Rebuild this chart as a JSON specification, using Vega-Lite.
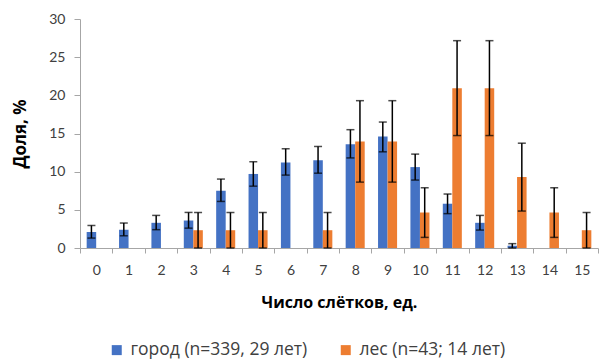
{
  "$schema": "https://vega.github.io/schema/vega-lite/v6.json",
  "width": 518,
  "height": 229,
  "autosize": "none",
  "padding": {"left": 80, "top": 19, "right": 1, "bottom": 111},
  "background": "white",
  "config": {
    "font": "Lato",
    "view": {"stroke": null},
    "axis": {"labelFont": "Lato", "titleFont": "Open Sans", "labelColor": "#404040", "titleColor": "#000000", "domainColor": "#A6A6A6", "tickColor": "#A6A6A6", "grid": false, "labelOverlap": false},
    "axisY": {"labelFontSize": 14, "labelPadding": 9, "tickSize": 6, "titleFontSize": 17, "titleFontWeight": "bold", "titlePadding": 19, "labelOverlap": false},
    "legend": {"padding": 0}
  },
  "data": {
    "values": [
      {"n": "0", "g": "город (n=339, 29 лет)", "v": 2.1, "lo": 1.3, "hi": 2.95},
      {"n": "1", "g": "город (n=339, 29 лет)", "v": 2.4, "lo": 1.6, "hi": 3.27},
      {"n": "2", "g": "город (n=339, 29 лет)", "v": 3.3, "lo": 2.4, "hi": 4.27},
      {"n": "3", "g": "город (n=339, 29 лет)", "v": 3.6, "lo": 2.6, "hi": 4.66},
      {"n": "4", "g": "город (n=339, 29 лет)", "v": 7.5, "lo": 6.1, "hi": 9.03},
      {"n": "5", "g": "город (n=339, 29 лет)", "v": 9.7, "lo": 8.1, "hi": 11.3},
      {"n": "6", "g": "город (n=339, 29 лет)", "v": 11.2, "lo": 9.55, "hi": 13.0},
      {"n": "7", "g": "город (n=339, 29 лет)", "v": 11.5, "lo": 9.8, "hi": 13.3},
      {"n": "8", "g": "город (n=339, 29 лет)", "v": 13.6, "lo": 11.8, "hi": 15.5},
      {"n": "9", "g": "город (n=339, 29 лет)", "v": 14.6, "lo": 12.6, "hi": 16.5},
      {"n": "10", "g": "город (n=339, 29 лет)", "v": 10.6, "lo": 8.9, "hi": 12.3},
      {"n": "11", "g": "город (n=339, 29 лет)", "v": 5.8, "lo": 4.5, "hi": 7.07},
      {"n": "12", "g": "город (n=339, 29 лет)", "v": 3.3, "lo": 2.35, "hi": 4.27},
      {"n": "13", "g": "город (n=339, 29 лет)", "v": 0.3, "lo": 0.0, "hi": 0.57},
      {"n": "14", "g": "город (n=339, 29 лет)", "v": 0, "lo": null, "hi": null},
      {"n": "15", "g": "город (n=339, 29 лет)", "v": 0, "lo": null, "hi": null},
      {"n": "0", "g": "лес (n=43; 14 лет)", "v": 0, "lo": null, "hi": null},
      {"n": "1", "g": "лес (n=43; 14 лет)", "v": 0, "lo": null, "hi": null},
      {"n": "2", "g": "лес (n=43; 14 лет)", "v": 0, "lo": null, "hi": null},
      {"n": "3", "g": "лес (n=43; 14 лет)", "v": 2.33, "lo": 0, "hi": 4.65},
      {"n": "4", "g": "лес (n=43; 14 лет)", "v": 2.33, "lo": 0, "hi": 4.65},
      {"n": "5", "g": "лес (n=43; 14 лет)", "v": 2.33, "lo": 0, "hi": 4.65},
      {"n": "6", "g": "лес (n=43; 14 лет)", "v": 0, "lo": null, "hi": null},
      {"n": "7", "g": "лес (n=43; 14 лет)", "v": 2.33, "lo": 0, "hi": 4.65},
      {"n": "8", "g": "лес (n=43; 14 лет)", "v": 13.95, "lo": 8.63, "hi": 19.3},
      {"n": "9", "g": "лес (n=43; 14 лет)", "v": 13.95, "lo": 8.63, "hi": 19.3},
      {"n": "10", "g": "лес (n=43; 14 лет)", "v": 4.65, "lo": 1.39, "hi": 7.89},
      {"n": "11", "g": "лес (n=43; 14 лет)", "v": 20.93, "lo": 14.73, "hi": 27.16},
      {"n": "12", "g": "лес (n=43; 14 лет)", "v": 20.93, "lo": 14.73, "hi": 27.16},
      {"n": "13", "g": "лес (n=43; 14 лет)", "v": 9.3, "lo": 4.84, "hi": 13.73},
      {"n": "14", "g": "лес (n=43; 14 лет)", "v": 4.65, "lo": 1.39, "hi": 7.89},
      {"n": "15", "g": "лес (n=43; 14 лет)", "v": 2.33, "lo": 0, "hi": 4.65}
    ]
  },
  "encoding": {
    "x": {
      "field": "n", "type": "nominal", "sort": null,
      "scale": {"paddingInner": 0, "paddingOuter": 0},
      "axis": {"title": "Число слётков, ед.", "labelAngle": 0, "labelFontSize": 14, "labelPadding": 10, "tickBand": "extent", "tickSize": 5, "titleFontSize": 16, "titleFontWeight": "bold", "titlePadding": 17}
    },
    "xOffset": {"field": "g", "type": "nominal", "scale": {"paddingInner": 0, "paddingOuter": 0.7}}
  },
  "layer": [
    {
      "mark": {"type": "bar"},
      "encoding": {
        "y": {
          "field": "v", "type": "quantitative",
          "scale": {"domain": [0, 30], "nice": false},
          "axis": {"title": "Доля, %", "values": [0, 5, 10, 15, 20, 25, 30]}
        },
        "color": {
          "field": "g", "type": "nominal",
          "scale": {"range": ["#4472C4", "#ED7D31"]},
          "legend": {"title": null, "orient": "none", "legendX": 28, "legendY": 322, "direction": "horizontal", "symbolType": "square", "symbolSize": 100, "symbolStrokeWidth": 0, "labelFontSize": 17.5, "labelFont": "Open Sans", "labelColor": "#404040", "labelLimit": 400, "columnPadding": 29, "symbolOffset": 0, "labelOffset": 5}
        }
      }
    },
    {
      "mark": {"type": "rule", "color": "black", "strokeWidth": 1.5},
      "encoding": {"y": {"field": "lo", "type": "quantitative", "scale": {"domain": [0, 30], "nice": false}, "axis": {"title": "Доля, %", "values": [0, 5, 10, 15, 20, 25, 30]}}, "y2": {"field": "hi"}}
    },
    {
      "mark": {"type": "tick", "color": "black", "thickness": 1.5, "size": 8},
      "encoding": {"y": {"field": "lo", "type": "quantitative", "scale": {"domain": [0, 30], "nice": false}, "axis": {"title": "Доля, %", "values": [0, 5, 10, 15, 20, 25, 30]}}}
    },
    {
      "mark": {"type": "tick", "color": "black", "thickness": 1.5, "size": 8},
      "encoding": {"y": {"field": "hi", "type": "quantitative", "scale": {"domain": [0, 30], "nice": false}, "axis": {"title": "Доля, %", "values": [0, 5, 10, 15, 20, 25, 30]}}}
    }
  ]
}
